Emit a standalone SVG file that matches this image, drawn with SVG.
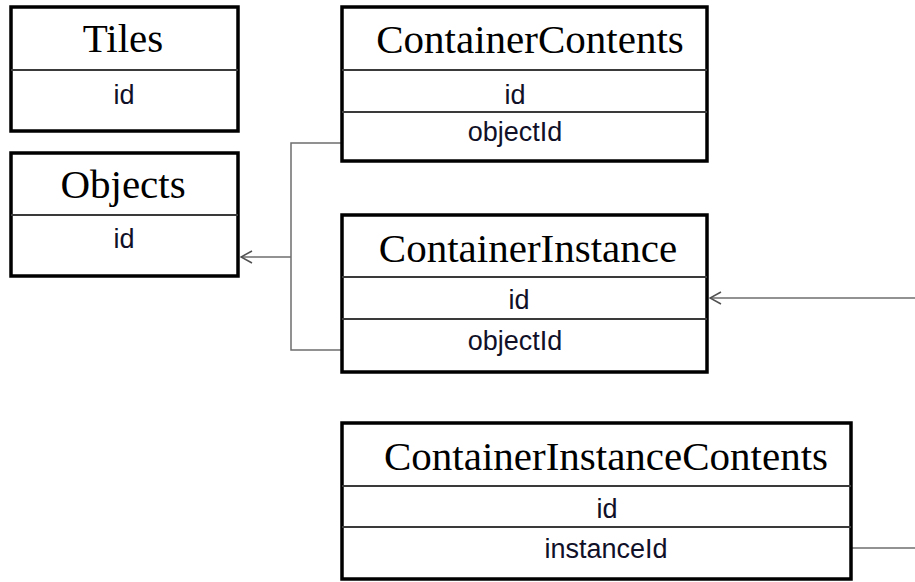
<svg xmlns="http://www.w3.org/2000/svg" width="915" height="582" viewBox="0 0 915 582">
  <style>
    .box { fill: #ffffff; stroke: #000000; stroke-width: 3.5; }
    .div { stroke: #3a3a3a; stroke-width: 2; }
    .title { font-family: "Liberation Serif", "Times New Roman", serif; font-size: 41px; fill: #000000; text-anchor: middle; }
    .field { font-family: "Liberation Sans", Arial, sans-serif; font-size: 27px; fill: #101028; text-anchor: middle; }
    .link { fill: none; stroke: #6e6e6e; stroke-width: 1.5; }
  </style>
  <defs>
    <marker id="open-arrow" markerWidth="14" markerHeight="14" refX="13" refY="7" orient="auto" markerUnits="userSpaceOnUse">
      <path d="M2,1 L13,7 L2,13" fill="none" stroke="#505050" stroke-width="1.5"/>
    </marker>
  </defs>

  <rect width="915" height="582" fill="#ffffff"/>

  <!-- connectors -->
  <g id="connectors">
    <path class="link" d="M342,143 H291 V350 H342"/>
    <path class="link" d="M291,257 H241" marker-end="url(#open-arrow)"/>
    <path class="link" d="M915,298 H710" marker-end="url(#open-arrow)"/>
    <path class="link" d="M851,548 H915"/>
  </g>

  <!-- Tiles -->
  <g id="tiles">
    <rect class="box" x="11" y="7" width="227" height="124"/>
    <line class="div" x1="11" y1="70" x2="238" y2="70"/>
    <text class="title" x="123" y="52">Tiles</text>
    <text class="field" x="124" y="104">id</text>
  </g>

  <!-- Objects -->
  <g id="objects">
    <rect class="box" x="11" y="153" width="227" height="123"/>
    <line class="div" x1="11" y1="215" x2="238" y2="215"/>
    <text class="title" x="123" y="198">Objects</text>
    <text class="field" x="124" y="248">id</text>
  </g>

  <!-- ContainerContents -->
  <g id="container-contents">
    <rect class="box" x="342" y="7" width="365" height="154"/>
    <line class="div" x1="342" y1="70" x2="707" y2="70"/>
    <line class="div" x1="342" y1="112" x2="707" y2="112"/>
    <text class="title" x="530" y="53">ContainerContents</text>
    <text class="field" x="515" y="104">id</text>
    <text class="field" x="515" y="141">objectId</text>
  </g>

  <!-- ContainerInstance -->
  <g id="container-instance">
    <rect class="box" x="342" y="215" width="365" height="157"/>
    <line class="div" x1="342" y1="277" x2="707" y2="277"/>
    <line class="div" x1="342" y1="319" x2="707" y2="319"/>
    <text class="title" x="528" y="262">ContainerInstance</text>
    <text class="field" x="519" y="309">id</text>
    <text class="field" x="515" y="350">objectId</text>
  </g>

  <!-- ContainerInstanceContents -->
  <g id="container-instance-contents">
    <rect class="box" x="342" y="423" width="509" height="156"/>
    <line class="div" x1="342" y1="486" x2="851" y2="486"/>
    <line class="div" x1="342" y1="527" x2="851" y2="527"/>
    <text class="title" x="606" y="470">ContainerInstanceContents</text>
    <text class="field" x="607" y="518">id</text>
    <text class="field" x="606" y="558">instanceId</text>
  </g>
</svg>
